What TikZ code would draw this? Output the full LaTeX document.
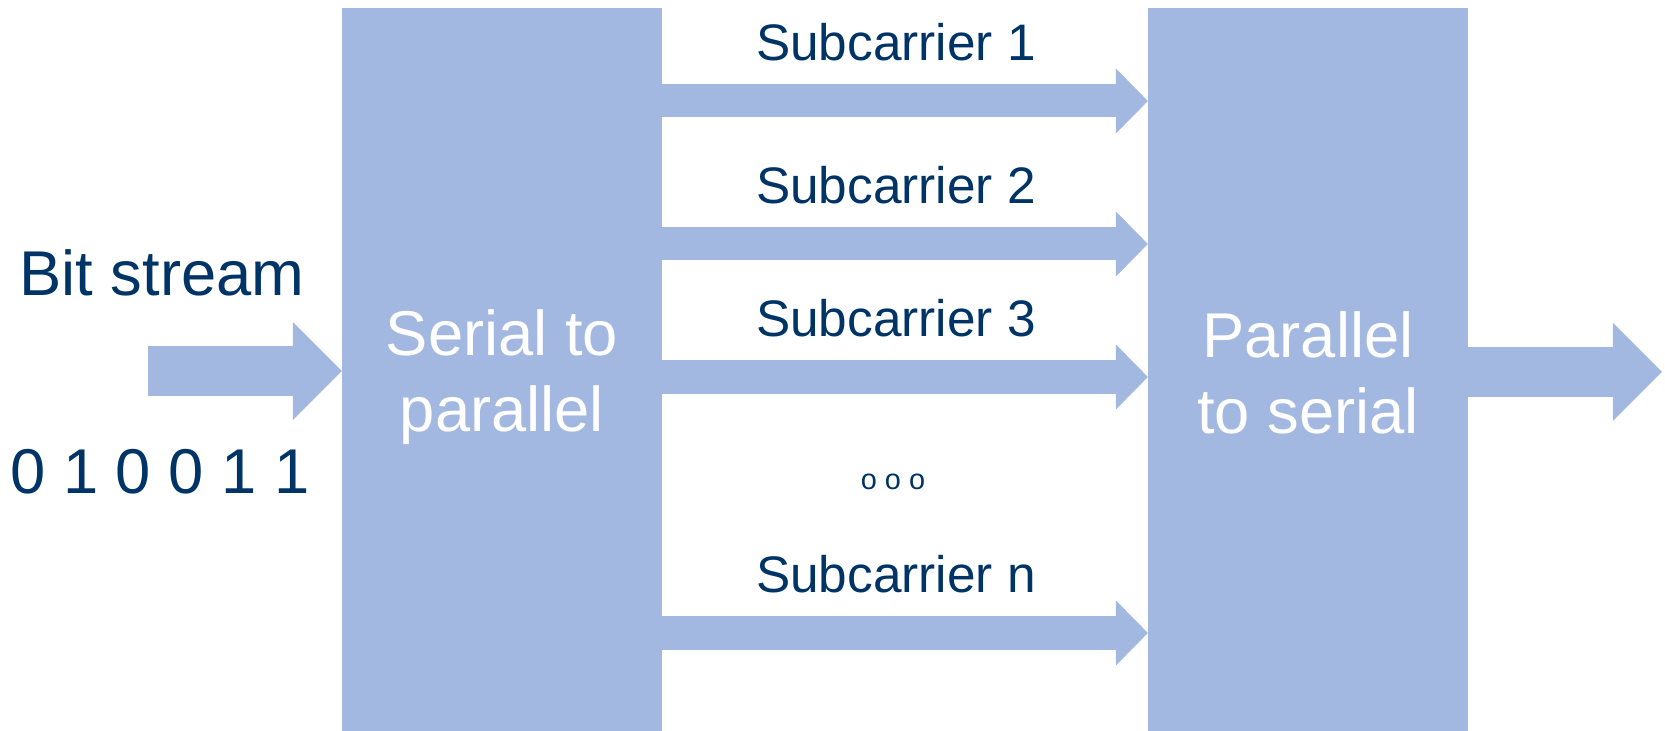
\documentclass[tikz,border=0pt]{standalone}
\usepackage{fontspec}
\setmainfont{Liberation Sans}
\usetikzlibrary{arrows.meta}
\definecolor{boxblue}{RGB}{162,184,224}
\definecolor{labelblue}{RGB}{0,51,102}
\begin{document}
\begin{tikzpicture}[x=0.01cm,y=-0.01cm,
  block/.style={fill=boxblue,inner sep=0pt,outer sep=0pt,
    minimum width=3.2cm,minimum height=7.225cm},
  blocktext/.style={text=white,inner sep=0pt,align=center,
    font=\fontsize{18pt}{21.6pt}\selectfont},
  biglabel/.style={text=labelblue,inner sep=0pt,anchor=base,
    font=\fontsize{18pt}{21.6pt}\selectfont},
  sublabel/.style={text=labelblue,inner sep=0pt,anchor=base,
    font=\fontsize{14.6pt}{17pt}\selectfont},
  fatarrow/.style={draw=boxblue,line width=0.49cm,
    -{Triangle[length=0.49cm,width=0.98cm,line width=0pt]}},
  subarrow/.style={draw=boxblue,line width=0.33cm,
    -{Triangle[length=0.32cm,width=0.65cm,line width=0pt]}}]
  \useasboundingbox (0,0) rectangle (1665,731);

  \node[block] (sp) at (502,369.75) {};
  \node[block] (ps) at (1308,369.75) {};
  \node[blocktext] (sptext) at ([yshift=-0.07cm]sp.center) {Serial to\\parallel};
  \node[blocktext] (pstext) at ([yshift=-0.03cm]ps.center) {Parallel\\to serial};

  \coordinate (in) at (148,371);
  \coordinate (out) at (1662,372);
  \node[biglabel] (stream) at (162,296) {Bit stream};
  \node[biglabel] (bits) at (160,494) {0 1 0 0 1 1};

  \draw[fatarrow] (in) -- (sp.west |- in);
  \draw[fatarrow] (ps.east |- out) -- (out);

  \foreach \y/\n [count=\i] in {101/1,244/2,377/3,633/n} {
    \coordinate (sc\i) at (0,\y);
    \draw[subarrow] (sp.east |- sc\i) -- (ps.west |- sc\i);
    \node[sublabel] (lab\i) at (896,\y-40) {Subcarrier \n};
  }
  \node[text=labelblue,inner sep=0pt,font=\fontsize{8.2pt}{10pt}\selectfont] (dots) at (893,482) {o o o};
\end{tikzpicture}
\end{document}
